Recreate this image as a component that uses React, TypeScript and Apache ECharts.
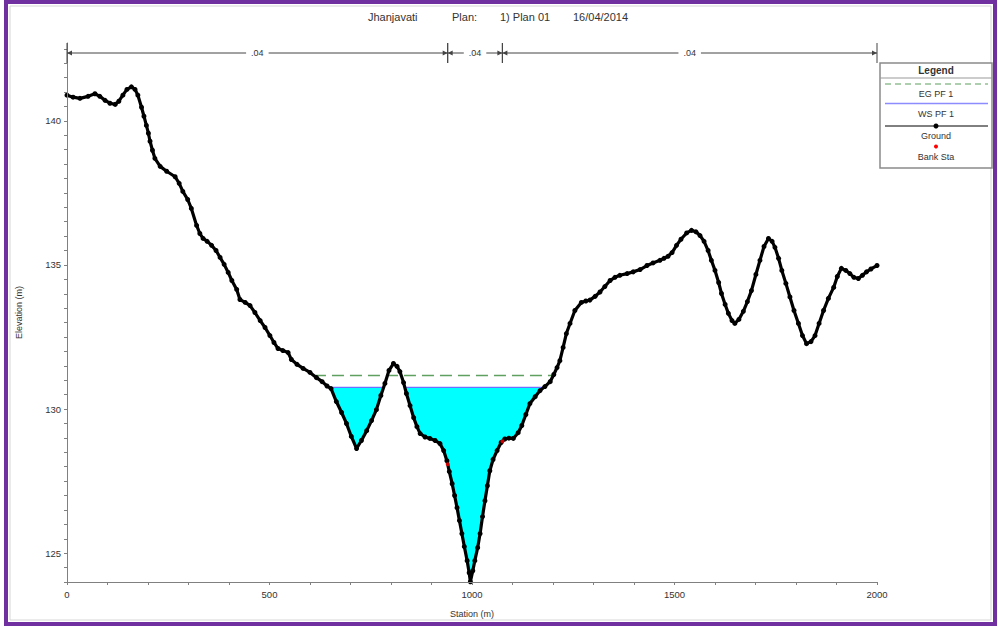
import React, { useEffect, useRef } from 'react';
import * as echarts from 'echarts';

// Ground profile of the cross section (station m, elevation m)
const stations = [
  0, 15, 32, 52, 69, 81, 94, 106, 119, 128, 138, 148, 159, 168, 175, 184, 190, 196, 201, 205,
  211, 217, 230, 246, 267, 277, 286, 298, 307, 320, 328, 336, 346, 357, 368, 378, 388, 398, 407, 419,
  427, 440, 452, 464, 477, 489, 501, 511, 521, 533, 546, 554, 568, 583, 600, 616, 630, 642, 652, 665,
  678, 690, 702, 715, 727, 740, 752, 764, 775, 785, 795, 806, 815, 822, 831, 838, 847, 856, 864, 872,
  884, 896, 909, 921, 930, 938, 944, 951, 957, 963, 969, 975, 981, 988, 993, 996, 1002, 1007, 1014, 1020,
  1026, 1032, 1038, 1044, 1052, 1062, 1072, 1081, 1091, 1102, 1114, 1123, 1133, 1143, 1156, 1168, 1180, 1193, 1202, 1210,
  1217, 1225, 1233, 1242, 1254, 1270, 1281, 1291, 1304, 1316, 1328, 1341, 1353, 1365, 1383, 1398, 1415, 1432, 1447, 1464,
  1474, 1484, 1494, 1505, 1516, 1530, 1542, 1553, 1563, 1573, 1583, 1591, 1600, 1609, 1616, 1625, 1633, 1642, 1649, 1659,
  1670, 1680, 1690, 1701, 1711, 1721, 1732, 1741, 1748, 1757, 1765, 1775, 1785, 1795, 1806, 1816, 1826, 1837, 1847, 1857,
  1868, 1880, 1893, 1902, 1912, 1923, 1933, 1943, 1954, 1964, 1974, 1985, 2000,
];
const elevations = [
  140.89, 140.82, 140.78, 140.85, 140.94, 140.85, 140.71, 140.61, 140.57, 140.68, 140.89, 141.09, 141.18, 141.09, 140.89, 140.47, 140.16, 139.84, 139.57, 139.29,
  138.98, 138.7, 138.42, 138.25, 138.06, 137.83, 137.55, 137.27, 136.96, 136.37, 136.09, 135.92, 135.82, 135.68, 135.5, 135.26, 135.02, 134.74, 134.46, 134.15,
  133.8, 133.7, 133.59, 133.35, 133.07, 132.83, 132.55, 132.31, 132.1, 132.03, 131.96, 131.72, 131.55, 131.41, 131.27, 131.09, 130.95, 130.8, 130.71, 130.26,
  129.88, 129.5, 129.05, 128.63, 128.91, 129.25, 129.6, 129.98, 130.47, 130.89, 131.34, 131.58, 131.48, 131.3, 130.92, 130.54, 130.12, 129.7, 129.39, 129.15,
  129.03, 128.98, 128.91, 128.8, 128.56, 128.21, 127.83, 127.41, 127.0, 126.58, 126.13, 125.68, 125.23, 124.74, 124.32, 124.01, 124.39, 124.74, 125.19, 125.68,
  126.27, 126.82, 127.34, 127.86, 128.25, 128.56, 128.84, 128.96, 128.99, 128.98, 129.18, 129.43, 129.81, 130.19, 130.43, 130.64, 130.78, 130.95, 131.2, 131.44,
  131.68, 132.14, 132.62, 132.97, 133.42, 133.7, 133.75, 133.78, 133.91, 134.06, 134.25, 134.46, 134.57, 134.64, 134.7, 134.76, 134.84, 134.98, 135.07, 135.16,
  135.23, 135.3, 135.43, 135.68, 135.89, 136.11, 136.2, 136.15, 136.02, 135.82, 135.5, 135.16, 134.81, 134.39, 134.01, 133.63, 133.32, 133.07, 132.97, 133.11,
  133.39, 133.73, 134.11, 134.67, 135.16, 135.64, 135.92, 135.82, 135.61, 135.23, 134.81, 134.36, 133.89, 133.42, 132.97, 132.55, 132.27, 132.34, 132.55, 132.97,
  133.42, 133.84, 134.22, 134.6, 134.88, 134.81, 134.7, 134.57, 134.53, 134.64, 134.76, 134.86, 134.98,
];

// Water surface and energy grade for profile PF 1
const wsElevation = 130.75;
const egElevation = 131.16;

// Bank stations and Manning's n breaks along the top
const bankStations = [940, 1075];
const nBreaks = [0, 940, 1075, 2000];
const nValues = ['.04', '.04', '.04'];

// Axis labels
const xTickLabels = [0, 500, 1000, 1500, 2000];
const yTickLabels = [125, 130, 135, 140];

const FONT = '"Liberation Sans", Arial, sans-serif';

function groundAt(st: number): number {
  for (let i = 1; i < stations.length; i++) {
    if (st <= stations[i]) {
      const t = (st - stations[i - 1]) / (stations[i] - stations[i - 1]);
      return elevations[i - 1] + t * (elevations[i] - elevations[i - 1]);
    }
  }
  return elevations[elevations.length - 1];
}

// Contiguous stretches where the ground lies below a level, clipped at the crossings
function wetRegions(level: number): number[][][] {
  const regions: number[][][] = [];
  let cur: number[][] | null = null;
  const cross = (i: number) => {
    const s0 = stations[i - 1], e0 = elevations[i - 1];
    const s1 = stations[i], e1 = elevations[i];
    const t = (level - e0) / (e1 - e0);
    return [s0 + t * (s1 - s0), level];
  };
  for (let i = 0; i < stations.length; i++) {
    const below = elevations[i] < level;
    if (below) {
      if (!cur) cur = i > 0 ? [cross(i)] : [[stations[i], level]];
      cur.push([stations[i], elevations[i]]);
    } else if (cur) {
      cur.push(cross(i));
      regions.push(cur);
      cur = null;
    }
  }
  if (cur) {
    cur.push([stations[stations.length - 1], level]);
    regions.push(cur);
  }
  return regions;
}

export default function App() {
  const ref = useRef<HTMLDivElement>(null);

  useEffect(() => {
    if (!ref.current) return;
    const chart = echarts.init(ref.current, null, { renderer: 'svg' });

    const groundData = stations.map((s, i) => [s, elevations[i]]);
    const wsRegions = wetRegions(wsElevation);
    const egRegions = wetRegions(egElevation);
    const egStart = egRegions[0][0][0];
    const egEnd = egRegions[egRegions.length - 1][egRegions[egRegions.length - 1].length - 1][0];
    const bankData = bankStations.map((s) => [s, groundAt(s)]);
    const nSegments = nValues.map((_, i) => [nBreaks[i], nBreaks[i + 1]]);

    const legendX = 880;
    const legendW = 112;
    const cx = legendX + legendW / 2;
    const legendText = (text: string, y: number, bold = false) => ({
      type: 'text',
      x: cx,
      y,
      style: {
        text,
        fill: '#333',
        font: `${bold ? 'bold ' : ''}${bold ? 10 : 9}px ${FONT}`,
        align: 'center',
        verticalAlign: 'middle',
      },
    });

    chart.setOption({
      animation: false,
      backgroundColor: '#ffffff',
      textStyle: { fontFamily: FONT },
      grid: { left: 67, right: 121, top: 43, bottom: 46 },
      xAxis: {
        type: 'value',
        min: 0,
        max: 2000,
        interval: 100,
        name: 'Station (m)',
        nameLocation: 'middle',
        nameGap: 27,
        nameTextStyle: { fontSize: 9, color: '#333' },
        splitLine: { show: false },
        axisLine: { lineStyle: { color: '#808080', width: 1 } },
        axisTick: { length: 3, lineStyle: { color: '#808080' } },
        axisLabel: {
          fontSize: 9.5,
          color: '#333',
          margin: 7,
          formatter: (v: number) => (xTickLabels.includes(v) ? String(v) : ''),
        },
        z: 5,
      },
      yAxis: {
        type: 'value',
        min: 124,
        max: 142.7,
        interval: 0.5,
        name: 'Elevation (m)',
        nameLocation: 'middle',
        nameGap: 44,
        nameTextStyle: { fontSize: 9, color: '#333' },
        splitLine: { show: false },
        axisLine: { show: true, lineStyle: { color: '#808080', width: 1 } },
        axisTick: { show: true, length: 3, lineStyle: { color: '#808080' } },
        axisLabel: {
          fontSize: 9.5,
          color: '#333',
          margin: 6,
          showMaxLabel: false,
          formatter: (v: number) => (yTickLabels.includes(v) ? String(v) : ''),
        },
        z: 5,
      },
      series: [
        {
          name: 'WS PF 1',
          type: 'custom',
          data: [[0, 0]],
          z: 1,
          silent: true,
          renderItem: (_params: any, api: any) => {
            const children: any[] = [];
            wsRegions.forEach((poly) => {
              const pts = poly.map((p) => api.coord(p));
              children.push({
                type: 'polygon',
                shape: { points: pts },
                style: { fill: '#00ffff', stroke: 'none' },
              });
            });
            wsRegions.forEach((poly) => {
              const a = api.coord(poly[0]);
              const b = api.coord(poly[poly.length - 1]);
              children.push({
                type: 'line',
                shape: { x1: a[0], y1: a[1], x2: b[0], y2: b[1] },
                style: { stroke: '#6f6fff', lineWidth: 1.3 },
              });
            });
            return { type: 'group', children };
          },
        },
        {
          name: 'EG PF 1',
          type: 'line',
          data: [
            [egStart, egElevation],
            [egEnd, egElevation],
          ],
          symbol: 'none',
          lineStyle: { color: '#5f9f5f', width: 1.5, type: [12, 6] },
          z: 2,
        },
        {
          name: 'Ground',
          type: 'line',
          data: groundData,
          symbol: 'circle',
          symbolSize: 5,
          showSymbol: true,
          itemStyle: { color: '#000' },
          lineStyle: { color: '#000', width: 3.2 },
          z: 3,
        },
        {
          name: 'Bank Sta',
          type: 'scatter',
          data: bankData,
          symbol: 'circle',
          symbolSize: 4,
          itemStyle: { color: '#ff0000' },
          z: 4,
        },
        {
          name: 'n values',
          type: 'custom',
          data: nSegments,
          z: 6,
          silent: true,
          renderItem: (params: any, api: any) => {
            const cs = params.coordSys;
            const y = cs.y + 10;
            const x0 = api.coord([api.value(0), 130])[0];
            const x1 = api.coord([api.value(1), 130])[0];
            const stroke = '#444';
            const children: any[] = [
              { type: 'line', shape: { x1: x0, y1: y, x2: x1, y2: y }, style: { stroke, lineWidth: 1 } },
              { type: 'line', shape: { x1: x0, y1: y - 10, x2: x0, y2: y + 10 }, style: { stroke, lineWidth: 1 } },
              { type: 'line', shape: { x1: x1, y1: y - 10, x2: x1, y2: y + 10 }, style: { stroke, lineWidth: 1 } },
              {
                type: 'polygon',
                shape: { points: [[x0, y], [x0 + 5, y - 2.5], [x0 + 5, y + 2.5]] },
                style: { fill: stroke },
              },
              {
                type: 'polygon',
                shape: { points: [[x1, y], [x1 - 5, y - 2.5], [x1 - 5, y + 2.5]] },
                style: { fill: stroke },
              },
              {
                type: 'text',
                x: (x0 + x1) / 2,
                y,
                style: {
                  text: nValues[params.dataIndex],
                  fill: '#333',
                  font: `9px ${FONT}`,
                  align: 'center',
                  verticalAlign: 'middle',
                  backgroundColor: '#fff',
                  padding: [1, 5],
                },
              },
            ];
            return { type: 'group', children };
          },
        },
      ],
      graphic: [
        // page frame
        {
          type: 'rect',
          shape: { x: 6, y: 2, width: 989, height: 622 },
          style: { fill: 'none', stroke: '#7030a0', lineWidth: 4 },
          silent: true,
        },
        {
          type: 'rect',
          shape: { x: 10, y: 6, width: 981, height: 614 },
          style: { fill: 'none', stroke: '#d6d6d6', lineWidth: 1 },
          silent: true,
        },
        // title line
        { type: 'text', x: 368, y: 17, style: { text: 'Jhanjavati', fill: '#333', font: `11px ${FONT}`, verticalAlign: 'middle' } },
        { type: 'text', x: 452, y: 17, style: { text: 'Plan:', fill: '#333', font: `11px ${FONT}`, verticalAlign: 'middle' } },
        { type: 'text', x: 500, y: 17, style: { text: '1) Plan 01', fill: '#333', font: `11px ${FONT}`, verticalAlign: 'middle' } },
        { type: 'text', x: 573, y: 17, style: { text: '16/04/2014', fill: '#333', font: `11px ${FONT}`, verticalAlign: 'middle' } },
        // legend box
        {
          type: 'group',
          children: [
            {
              type: 'rect',
              shape: { x: legendX, y: 63, width: legendW, height: 105 },
              style: { fill: '#fff', stroke: '#8a8a8a', lineWidth: 1.5 },
            },
            legendText('Legend', 70.5, true),
            { type: 'line', shape: { x1: legendX, y1: 78, x2: legendX + legendW, y2: 78 }, style: { stroke: '#999', lineWidth: 1 } },
            {
              type: 'line',
              shape: { x1: legendX + 5, y1: 84, x2: legendX + legendW - 4, y2: 84 },
              style: { stroke: '#5f9f5f', lineWidth: 1.2, lineDash: [6, 4] },
            },
            legendText('EG PF 1', 93.5),
            {
              type: 'line',
              shape: { x1: legendX + 5, y1: 103.5, x2: legendX + legendW - 4, y2: 103.5 },
              style: { stroke: '#8c8cff', lineWidth: 1.5 },
            },
            legendText('WS PF 1', 113.5),
            {
              type: 'line',
              shape: { x1: legendX + 5, y1: 126, x2: legendX + legendW - 4, y2: 126 },
              style: { stroke: '#000', lineWidth: 1 },
            },
            { type: 'circle', shape: { cx, cy: 126, r: 2.5 }, style: { fill: '#000' } },
            legendText('Ground', 136),
            { type: 'circle', shape: { cx, cy: 146.5, r: 2 }, style: { fill: '#ff0000' } },
            legendText('Bank Sta', 157),
          ],
        },
      ],
    });

    return () => chart.dispose();
  }, []);

  return (
    <div
      ref={ref}
      style={{ position: 'fixed', left: 0, top: 0, width: 998, height: 628, background: '#fff' }}
    />
  );
}
